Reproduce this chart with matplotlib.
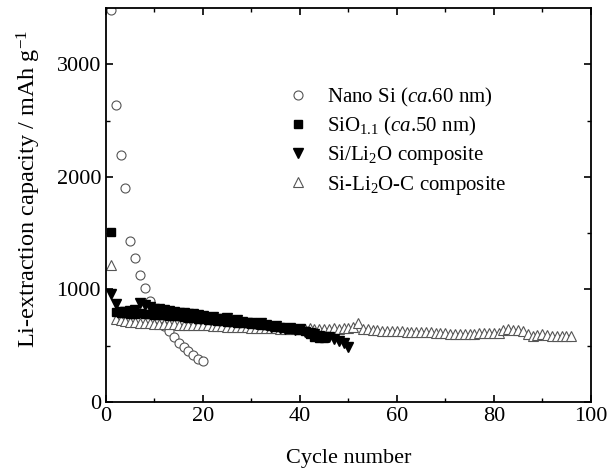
import numpy as np
import matplotlib
matplotlib.use("Agg")
import matplotlib.pyplot as plt

plt.rcParams['font.family'] = 'Liberation Serif'
plt.rcParams['mathtext.fontset'] = 'custom'
plt.rcParams['mathtext.rm'] = 'Liberation Serif'
plt.rcParams['mathtext.it'] = 'Liberation Serif:italic'

# Nano Si (ca. 60 nm)
nano_cyc = np.arange(1, 21)
nano_cap = [3480, 2635, 2190, 1900, 1430, 1277, 1130, 1010, 896, 810,
            740, 674, 630, 577, 526, 488, 452, 417, 382, 366]

# SiO1.1 (ca. 50 nm)
sio_cyc = np.arange(1, 46)
sio_cap = [1510, 800, 790, 790, 785, 780, 790, 785, 780, 775,
           770, 770, 765, 760, 760, 755, 750, 745, 740, 735,
           730, 725, 720, 720, 715, 710, 705, 700, 700, 695,
           690, 685, 680, 675, 670, 665, 660, 650, 645, 640,
           630, 600, 580, 570, 565]

# Si/Li2O composite
sili_cyc = np.arange(1, 51)
sili_cap = [960, 870, 800, 800, 810, 820, 880, 860, 840, 830,
            825, 815, 810, 800, 795, 790, 780, 785, 770, 760,
            750, 755, 740, 735, 745, 720, 730, 710, 700, 705,
            690, 700, 680, 670, 675, 660, 650, 660, 640, 650,
            620, 610, 600, 590, 580, 575, 560, 540, 520, 490]

# Si-Li2O-C composite
silic_cyc = np.arange(1, 97)
silic_cap = [1220, 740, 730, 720, 715, 710, 705, 700, 700, 695,
             695, 690, 690, 690, 685, 685, 685, 680, 680, 680,
             680, 675, 675, 675, 670, 670, 670, 665, 665, 660,
             660, 660, 655, 655, 655, 650, 650, 650, 650, 650,
             650, 655, 650, 645, 650, 650, 655, 650, 655, 660,
             665, 705, 650, 645, 640, 640, 635, 635, 630, 630,
             630, 625, 625, 625, 620, 620, 620, 615, 615, 610,
             605, 600, 600, 600, 600, 605, 610, 610, 610, 610,
             615, 640, 645, 640, 640, 630, 600, 590, 595, 600,
             595, 590, 590, 590, 590, 585]

fig = plt.figure(figsize=(6.09, 4.71), dpi=100)
ax = fig.add_axes([0.174, 0.1465, 0.796, 0.8365])

ax.plot(nano_cyc, nano_cap, 'o', mfc='white', mec='#555555', ms=6.5, mew=0.8,
        label='Nano Si ($\\it{ca}$.60 nm)')
ax.plot(silic_cyc, silic_cap, '^', mfc='white', mec='#555555', ms=6.5, mew=0.8,
        label='Si-Li$_2$O-C composite', zorder=2)
ax.plot(sio_cyc, sio_cap, 's', color='black', ms=6,
        label='SiO$_{1.1}$ ($\\it{ca}$.50 nm)', zorder=3)
ax.plot(sili_cyc, sili_cap, 'v', color='black', ms=6.5,
        label='Si/Li$_2$O composite', zorder=3)

ax.set_xlim(0, 100)
ax.set_ylim(0, 3500)
ax.set_xticks([0, 20, 40, 60, 80, 100])
ax.set_xticks(np.arange(10, 100, 20), minor=True)
ax.set_yticks([0, 1000, 2000, 3000])
ax.set_yticks([500, 1500, 2500], minor=True)
ax.tick_params(which='both', direction='in', top=True, right=True, labelsize=16)
ax.tick_params(which='major', length=5, width=1.2)
ax.tick_params(which='minor', length=3, width=1)
for s in ax.spines.values():
    s.set_linewidth(1.3)

ax.set_xlabel('Cycle number', fontsize=16, labelpad=17)
ax.set_ylabel('Li-extraction capacity / mAh g$^{-1}$', fontsize=17.5, labelpad=10)
ax.yaxis.label.set_y(0.54)

h, l = ax.get_legend_handles_labels()
order = [0, 2, 3, 1]
ax.legend([h[i] for i in order], [l[i] for i in order], loc='upper left',
          bbox_to_anchor=(0.335, 0.85), frameon=False, fontsize=15,
          handletextpad=0.9, labelspacing=0.3, handlelength=1.0,
          markerscale=1.0)

fig.savefig('out.png', dpi=100)
